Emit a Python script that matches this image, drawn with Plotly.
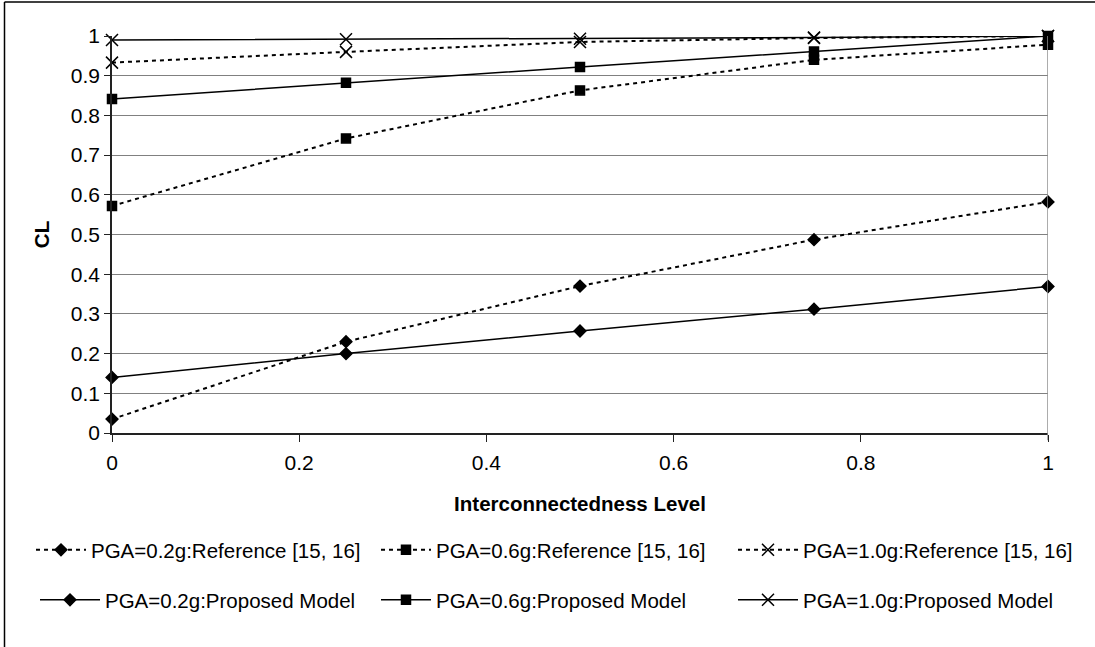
import plotly.graph_objects as go

# Interconnectedness levels (x) and CL values per series
levels = [0, 0.25, 0.5, 0.75, 1]

ref_02 = [0.035, 0.23, 0.37, 0.487, 0.582]
ref_06 = [0.572, 0.742, 0.863, 0.94, 0.978]
ref_10 = [0.933, 0.96, 0.985, 0.995, 1.0]

prop_02 = [0.14, 0.20, 0.257, 0.312, 0.369]
prop_06 = [0.841, 0.882, 0.922, 0.961, 1.0]
prop_10 = [0.99, 0.992, 0.993, 0.996, 1.0]

ref_names = ["PGA=0.2g:Reference [15, 16]",
             "PGA=0.6g:Reference [15, 16]",
             "PGA=1.0g:Reference [15, 16]"]
prop_names = ["PGA=0.2g:Proposed Model",
              "PGA=0.6g:Proposed Model",
              "PGA=1.0g:Proposed Model"]

symbols = ["diamond", "square", "x-thin"]
sizes = [9, 9, 12]

FONT = "Liberation Sans, Arial, sans-serif"

# plot-area geometry in pixels (used to place the legend blocks)
W, H = 1095, 647
ML, MR, MT, MB = 112, 47, 36, 214
PW, PH = W - ML - MR, H - MT - MB


def px_x(px):
    return (px - ML) / PW


def px_y(py):
    return (H - MB - py) / PH


fig = go.Figure()

# legend block ids: row 1 = reference series, row 2 = proposed model
ref_legends = ["legend", "legend2", "legend3"]
prop_legends = ["legend4", "legend5", "legend6"]

for vals, name, sym, sz, lg in zip([ref_02, ref_06, ref_10], ref_names,
                                   symbols, sizes, ref_legends):
    fig.add_trace(go.Scatter(
        x=levels, y=vals, name=name, mode="lines+markers",
        line=dict(color="black", width=2, dash="4px,4px"),
        marker=dict(symbol=sym, size=sz, color="black",
                    line=dict(color="black", width=1.5)),
        cliponaxis=False, legend=lg,
    ))

for vals, name, sym, sz, lg in zip([prop_02, prop_06, prop_10], prop_names,
                                   symbols, sizes, prop_legends):
    fig.add_trace(go.Scatter(
        x=levels, y=vals, name=name, mode="lines+markers",
        line=dict(color="black", width=1.5),
        marker=dict(symbol=sym, size=sz, color="black",
                    line=dict(color="black", width=1.5)),
        cliponaxis=False, legend=lg,
    ))


def legend_block(left_px, center_py, item_w):
    return dict(
        orientation="h", xanchor="left", yanchor="middle",
        x=px_x(left_px), y=px_y(center_py), itemwidth=item_w,
        font=dict(family=FONT, size=20.5, color="black"),
        bgcolor="rgba(0,0,0,0)",
    )


ROW1, ROW2 = 550, 600

fig.update_layout(
    width=W, height=H,
    margin=dict(l=ML, r=MR, t=MT, b=MB),
    paper_bgcolor="white", plot_bgcolor="white",
    font=dict(family=FONT, color="black"),
    showlegend=True,
    legend=legend_block(31, ROW1, 50),
    legend2=legend_block(376, ROW1, 50),
    legend3=legend_block(733, ROW1, 60),
    legend4=legend_block(35, ROW2, 60),
    legend5=legend_block(376, ROW2, 50),
    legend6=legend_block(733, ROW2, 60),
    xaxis=dict(
        range=[0, 1], dtick=0.2, tick0=0,
        showgrid=False, zeroline=False,
        showline=True, linecolor="#222", linewidth=1.5,
        ticks="outside", ticklen=7, tickcolor="#222", tickwidth=1,
        ticklabelstandoff=3,
        tickfont=dict(family=FONT, size=21, color="black"),
        title=dict(text="<b>Interconnectedness Level</b>",
                   font=dict(family=FONT, size=20.5, color="black"), standoff=24),
    ),
    yaxis=dict(
        range=[0, 1], dtick=0.1, tick0=0,
        showgrid=True, gridcolor="#808080", gridwidth=1,
        zeroline=False,
        showline=True, linecolor="#222", linewidth=1.5,
        ticks="outside", ticklen=6, tickcolor="#222", tickwidth=1,
        tickfont=dict(family=FONT, size=21, color="black"),
        title=dict(text="<b>CL</b>",
                   font=dict(family=FONT, size=20.5, color="black"), standoff=16),
    ),
    shapes=[
        # right edge of the plot area
        dict(type="line", xref="x", yref="paper", x0=1, x1=1, y0=-0.018, y1=1,
             line=dict(color="#909090", width=1.5)),
        # outer chart frame (left and top edges)
        dict(type="line", xref="paper", yref="paper", x0=px_x(4.5), x1=px_x(4.5),
             y0=px_y(660), y1=px_y(2), line=dict(color="black", width=1.5)),
        dict(type="line", xref="paper", yref="paper", x0=px_x(4.5), x1=px_x(1110),
             y0=px_y(2), y1=px_y(2), line=dict(color="black", width=1.5)),
    ],
)

fig.write_html("out.html")
